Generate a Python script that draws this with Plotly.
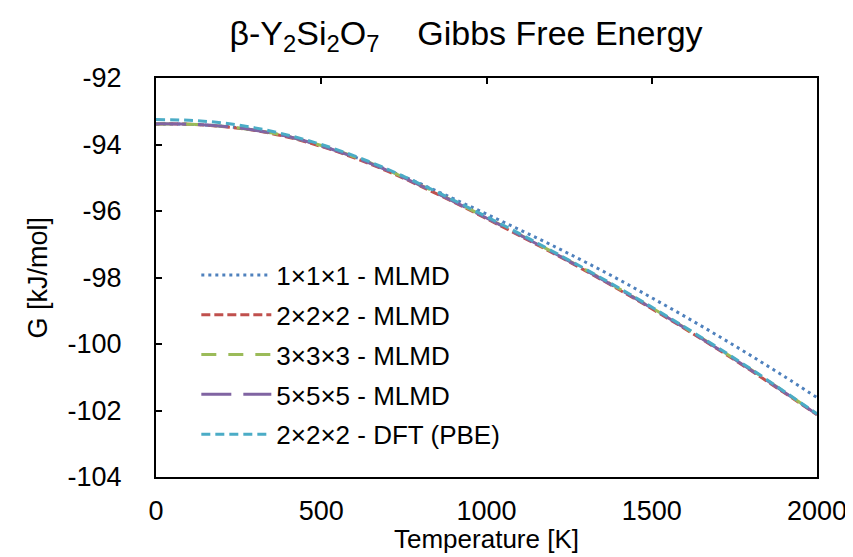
import plotly.graph_objects as go

temperature = [0, 100, 200, 300, 400, 500, 600, 700, 800, 900, 1000,
               1100, 1200, 1300, 1400, 1500, 1600, 1700, 1800, 1900, 2000]

g_111_mlmd = [-93.38, -93.39, -93.45, -93.57, -93.76, -94.04, -94.37, -94.76, -95.18, -95.63, -96.09,
              -96.56, -97.04, -97.54, -98.06, -98.61, -99.17, -99.75, -100.35, -100.97, -101.61]
g_222_mlmd = [-93.38, -93.39, -93.46, -93.58, -93.78, -94.06, -94.40, -94.80, -95.25, -95.73, -96.23,
              -96.74, -97.26, -97.80, -98.36, -98.94, -99.54, -100.16, -100.80, -101.46, -102.13]
g_333_mlmd = [-93.38, -93.39, -93.45, -93.57, -93.76, -94.03, -94.37, -94.77, -95.22, -95.70, -96.20,
              -96.71, -97.23, -97.77, -98.33, -98.91, -99.51, -100.13, -100.77, -101.43, -102.11]
g_555_mlmd = [-93.38, -93.39, -93.45, -93.57, -93.76, -94.04, -94.38, -94.78, -95.23, -95.71, -96.21,
              -96.72, -97.24, -97.78, -98.34, -98.92, -99.52, -100.14, -100.78, -101.44, -102.12]
g_222_dft = [-93.25, -93.27, -93.35, -93.50, -93.72, -94.00, -94.34, -94.74, -95.19, -95.67, -96.17,
             -96.68, -97.21, -97.75, -98.31, -98.89, -99.49, -100.11, -100.75, -101.42, -102.10]

series_names = ["1×1×1 - MLMD", "2×2×2 - MLMD", "3×3×3 - MLMD", "5×5×5 - MLMD", "2×2×2 - DFT (PBE)"]
series_values = [g_111_mlmd, g_222_mlmd, g_333_mlmd, g_555_mlmd, g_222_dft]
colors = ["#4F81BD", "#C0504D", "#9BBB59", "#8064A2", "#4BACC6"]
dashes = ["3px,4px", "9px,4px", "15px,12px", "30px,12px", "9px,5px"]

x_ticks = [0, 500, 1000, 1500, 2000]
x_tick_labels = ["0", "500", "1000", "1500", "2000"]
y_ticks = [-92, -94, -96, -98, -100, -102, -104]
y_tick_labels = ["-92", "-94", "-96", "-98", "-100", "-102", "-104"]

FONT = "Arial, Liberation Sans, sans-serif"

fig = go.Figure()
for i, (name, vals) in enumerate(zip(series_names, series_values)):
    fig.add_trace(go.Scatter(
        x=temperature, y=vals, name=name, mode="lines",
        line=dict(color=colors[i], width=3, dash=dashes[i], shape="spline"),
        legendgroup=f"g{i}",
    ))

# invisible trace carrying the top axis ticks
fig.add_trace(go.Scatter(x=[0, 2000], y=[-92, -92], xaxis="x2", mode="lines",
                         line=dict(width=0), showlegend=False, hoverinfo="skip"))

fig.update_layout(
    width=853, height=557,
    margin=dict(l=148, r=44, t=70, b=88, autoexpand=False),
    paper_bgcolor="white", plot_bgcolor="white",
    font=dict(family=FONT, size=27, color="black"),
    title=dict(text="β-Y<sub>2</sub>Si<sub>2</sub>O<sub>7</sub>\u00a0\u00a0\u00a0\u00a0Gibbs Free Energy",
               x=0.537, xanchor="center", y=0.955, yanchor="middle",
               font=dict(family=FONT, size=34, color="black")),
    xaxis=dict(range=[0, 2000], tickvals=x_ticks, ticktext=x_tick_labels, ticks="",
               showgrid=False, zeroline=False, automargin=False,
               showline=True, linecolor="black", linewidth=2, mirror=True,
               ticklabelstandoff=9, tickfont=dict(size=27)),
    xaxis2=dict(range=[0, 2000], tickvals=x_ticks, overlaying="x", side="top",
                ticks="inside", ticklen=6, tickwidth=1.5, tickcolor="black", automargin=False,
                showticklabels=False, showgrid=False, zeroline=False, showline=False),
    yaxis=dict(range=[-104, -92], tickvals=y_ticks, ticktext=y_tick_labels,
               ticks="inside", ticklen=6, tickwidth=1.5, automargin=False,
               tickcolor="black", showgrid=False, zeroline=False,
               showline=True, linecolor="black", linewidth=2, mirror=True,
               ticklabelstandoff=27, tickfont=dict(size=27)),
    legend=dict(x=0.061, y=0.565, xanchor="left", yanchor="top", bgcolor="rgba(0,0,0,0)",
                font=dict(size=26), itemwidth=70, tracegroupgap=3),
    showlegend=True,
    annotations=[
        dict(text="Temperature [K]", xref="paper", yref="paper", x=0.5, y=-0.155,
             xanchor="center", yanchor="middle", showarrow=False, borderpad=0,
             font=dict(size=26)),
        dict(text="G [kJ/mol]", xref="paper", yref="paper", x=-0.18, y=0.5, textangle=-90,
             xanchor="center", yanchor="middle", showarrow=False, borderpad=0,
             font=dict(size=27)),
    ],
)

fig.write_html("out.html")
